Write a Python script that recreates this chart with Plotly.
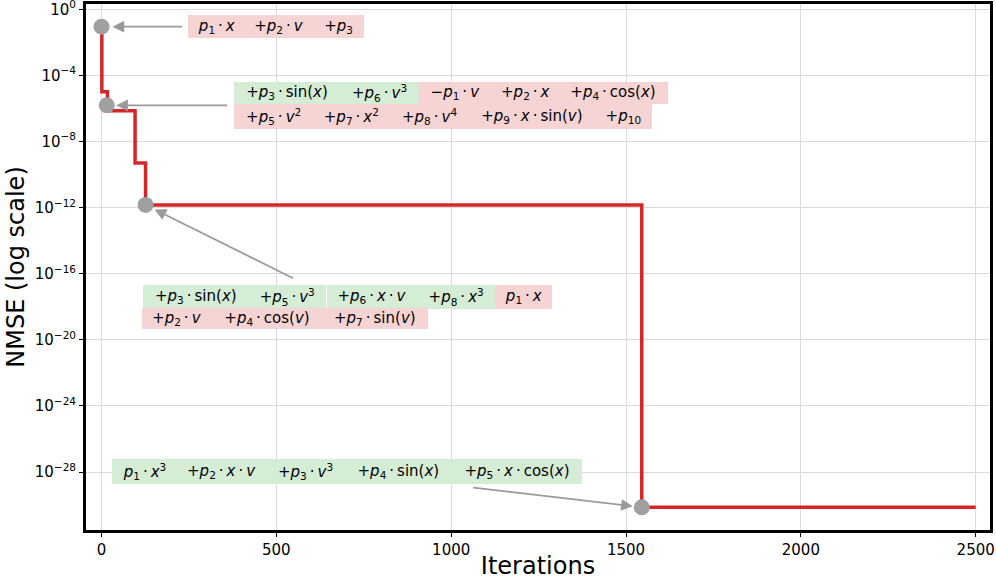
import plotly.graph_objects as go

# ---------------- data ----------------
step_iter = [0, 1, 17, 96, 126, 1545, 2500]
step_log_nmse = [-1.05, -4.99, -6.14, -9.30, -11.84, -30.14, -30.14]
step_nmse = [10 ** v for v in step_log_nmse]

marker_iter = [0, 15, 126, 1545]
marker_log_nmse = [-1.05, -5.81, -11.84, -30.14]
marker_nmse = [10 ** v for v in marker_log_nmse]

x_ticks = [0, 500, 1000, 1500, 2000, 2500]
y_tick_exps = [0, -4, -8, -12, -16, -20, -24, -28]


def P(n):
    return f"<i>p</i><sub>{n}</sub>"


D = "\u2009·\u2009"
X = "<i>x</i>"
V = "<i>v</i>"

# expression terms: (text, kind) kind 'g' = kept (green), 'r' = removed (red)
group1_row1 = [(P(1) + D + X, 'r'), ('+' + P(2) + D + V, 'r'), ('+' + P(3), 'r')]
group2_row1 = [('+' + P(3) + D + 'sin(' + X + ')', 'g'), ('+' + P(6) + D + V + '<sup>3</sup>', 'g'),
               ('\u2212' + P(1) + D + V, 'r'), ('+' + P(2) + D + X, 'r'),
               ('+' + P(4) + D + 'cos(' + X + ')', 'r')]
group2_row2 = [('+' + P(5) + D + V + '<sup>2</sup>', 'r'), ('+' + P(7) + D + X + '<sup>2</sup>', 'r'),
               ('+' + P(8) + D + V + '<sup>4</sup>', 'r'), ('+' + P(9) + D + X + D + 'sin(' + V + ')', 'r'),
               ('+' + P(10), 'r')]
group3_row1 = [('+' + P(3) + D + 'sin(' + X + ')', 'g'), ('+' + P(5) + D + V + '<sup>3</sup>', 'g'),
               ('+' + P(6) + D + X + D + V, 'g'), ('+' + P(8) + D + X + '<sup>3</sup>', 'g'),
               (P(1) + D + X, 'r')]
group3_row2 = [('+' + P(2) + D + V, 'r'), ('+' + P(4) + D + 'cos(' + V + ')', 'r'),
               ('+' + P(7) + D + 'sin(' + V + ')', 'r')]
group4_row1 = [(P(1) + D + X + '<sup>3</sup>', 'g'), ('+' + P(2) + D + X + D + V, 'g'),
               ('+' + P(3) + D + V + '<sup>3</sup>', 'g'), ('+' + P(4) + D + 'sin(' + X + ')', 'g'),
               ('+' + P(5) + D + X + D + 'cos(' + X + ')', 'g')]

# ---------------- layout geometry (pixels) ----------------
W, H = 996, 580
ML, MR, MT, MB = 86, 6, 4, 50
PW, PH = W - ML - MR, H - MT - MB
x_range = [(ML - 101.5) / 0.34968, (W - MR - 101.5) / 0.34968]
y_range = [-(H - MB - 9.3) / 16.525, (9.3 - MT) / 16.525]

# rows: terms, left px, top px, height px, widths px
rows = [
    (group1_row1, 188.3, 15.0, 22.7, [56.7, 68.0, 51.3]),
    (group2_row1, 234.0, 82.3, 21.7, [106.0, 79.0, 72.7, 66.6, 110.0]),
    (group2_row2, 234.0, 104.0, 25.3, [79.3, 76.7, 79.3, 125.7, 56.7]),
    (group3_row1, 142.7, 284.6, 23.7, [105.6, 78.4, 90.0, 78.3, 56.7]),
    (group3_row2, 142.0, 308.3, 21.0, [69.7, 110.0, 105.6]),
    (group4_row1, 111.7, 459.3, 24.7, [65.0, 89.3, 79.0, 106.7, 130.0]),
]
colors = {'g': 'rgb(213,236,213)', 'r': 'rgb(247,212,212)'}

# arrows: (marker index, ax px, ay px, standoff)
arrows = [(0, 82, 0, 11), (1, 122, 0, 9.5), (2, 149, 74, 10), (3, -170, -20, 9)]

fig = go.Figure()
fig.add_trace(go.Scatter(x=step_iter, y=step_nmse, mode='lines', line_shape='hv',
                         line=dict(color='#d62728', width=3.5), hoverinfo='skip', showlegend=False))
fig.add_trace(go.Scatter(x=marker_iter, y=marker_nmse, mode='markers',
                         marker=dict(color='#a0a0a0', size=16), hoverinfo='skip', showlegend=False))

annotations = []
for idx, ax, ay, so in arrows:
    annotations.append(dict(x=marker_iter[idx], y=marker_log_nmse[idx], xref='x', yref='y',
                            text='', showarrow=True, ax=ax, ay=ay, standoff=so,
                            arrowhead=2, arrowsize=1.3, arrowwidth=1.8, arrowcolor='#9a9a9a'))

for terms, left, top, h, widths in rows:
    cx = left
    for (txt, kind), w in zip(terms, widths):
        annotations.append(dict(x=(cx - ML) / PW, y=(H - MB - top) / PH, xref='paper', yref='paper',
                                xanchor='left', yanchor='top', width=w, height=h, text=txt,
                                showarrow=False, bgcolor=colors[kind], borderpad=0, borderwidth=0,
                                font=dict(family='DejaVu Sans', size=15, color='black')))
        cx += w

fig.update_layout(
    width=W, height=H, margin=dict(l=ML, r=MR, t=MT, b=MB),
    paper_bgcolor='white', plot_bgcolor='white',
    font=dict(family='DejaVu Sans', color='black'),
    annotations=annotations,
    xaxis=dict(range=x_range, tickvals=x_ticks, ticktext=[str(t) for t in x_ticks],
               showgrid=True, gridcolor='#dadada', gridwidth=1, zeroline=False,
               showline=True, linecolor='black', linewidth=3, mirror=True,
               ticks='outside', ticklen=4, tickwidth=1, tickcolor='black', automargin=False,
               ticklabeloverflow='allow',
               tickfont=dict(size=15), title=dict(text='Iterations', font=dict(size=24), standoff=6)),
    yaxis=dict(type='log', range=y_range, tickvals=[10 ** e for e in y_tick_exps],
               ticktext=[f"10<sup>{str(e).replace('-', '\u2212')}</sup>" for e in y_tick_exps],
               showgrid=True, gridcolor='#dadada', gridwidth=1, zeroline=False,
               showline=True, linecolor='black', linewidth=3, mirror=True,
               ticks='outside', ticklen=4, tickwidth=1, tickcolor='black', automargin=False,
               ticklabeloverflow='allow',
               tickfont=dict(size=15), title=dict(text='NMSE (log scale)', font=dict(size=24), standoff=4)),
)

fig.write_html(
    "out.html",
    config={'displayModeBar': False},
    post_script=("document.body.style.margin='0px';document.body.style.overflow='hidden';"
                 "var d=document.getElementById('{plot_id}');d.style.position='absolute';"
                 "d.style.top='0px';d.style.left='0px';"),
)
